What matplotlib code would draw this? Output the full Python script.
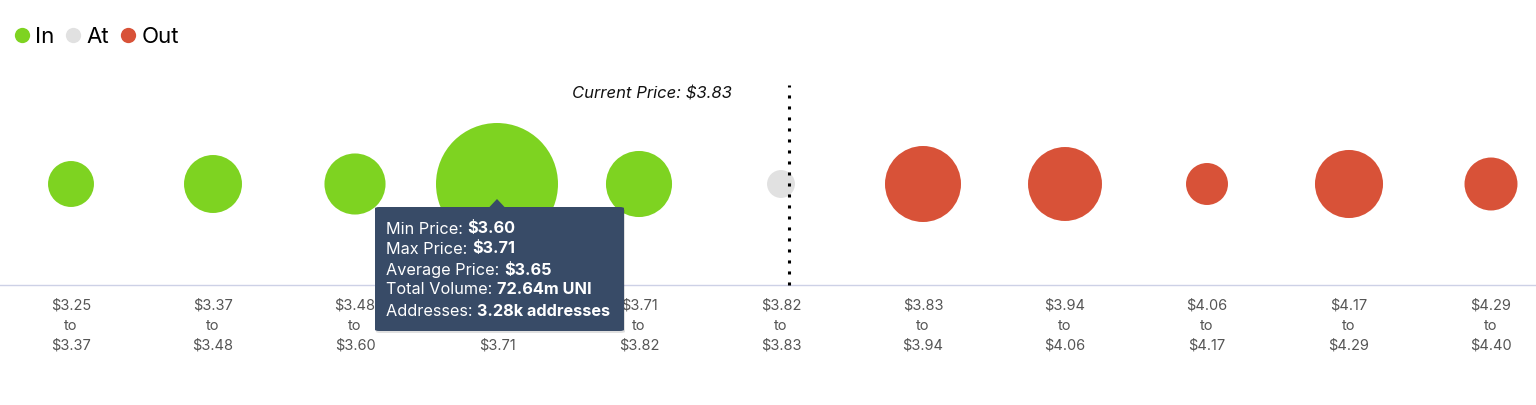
import matplotlib
matplotlib.use("Agg")
import matplotlib.pyplot as plt
from matplotlib.lines import Line2D
from matplotlib.patches import FancyBboxPatch, Polygon
import numpy as np

# ---- data ----
range_low = ["$3.25", "$3.37", "$3.48", "$3.60", "$3.71", "$3.82", "$3.83", "$3.94", "$4.06", "$4.17", "$4.29"]
range_high = ["$3.37", "$3.48", "$3.60", "$3.71", "$3.82", "$3.83", "$3.94", "$4.06", "$4.17", "$4.29", "$4.40"]
status = ["In", "In", "In", "In", "In", "At", "Out", "Out", "Out", "Out", "Out"]
volume_m = [10.3, 16.4, 18.2, 72.64, 21.3, 3.8, 28.2, 26.7, 8.6, 22.6, 13.7]
current_price_label = "Current Price: $3.83"
tooltip_labels = ["Min Price: ", "Max Price: ", "Average Price: ", "Total Volume: ", "Addresses: "]
tooltip_values = ["$3.60", "$3.71", "$3.65", "72.64m UNI", "3.28k addresses"]
tooltip_index = 3

colors = {"In": "#7ed321", "At": "#e1e1e1", "Out": "#d85238"}

W, H = 1536, 405
DPI = 100
plt.rcParams['font.family'] = ['Inter', 'DejaVu Sans']
fig = plt.figure(figsize=(W / DPI, H / DPI), dpi=DPI)


def fx(px):
    return px / W


def fy(py):
    return 1 - py / H


ax_top, ax_bot = 85, 285
ax = fig.add_axes([0, fy(ax_bot), 1, (ax_bot - ax_top) / H])
x0, step = 71, 142
ax.set_xlim(-x0 / step, (W - x0) / step)
ax.set_ylim(0, 1)

n = len(volume_m)
xs = np.arange(n)
k = (2 * 61 * 72 / DPI) ** 2 / 72.64
ax.scatter(xs, [0.505] * n, s=np.array(volume_m) * k,
           c=[colors[s] for s in status], linewidths=0, zorder=2)

# current price dotted line
line_x = (789 - x0) / step
ax.plot([line_x, line_x], [0, 1], color="black", lw=2.2,
        linestyle=(0, (1, 2.6)), zorder=3, clip_on=False)
ax.text(line_x - (789 - 732) / step, 0.955, current_price_label, ha="right", va="center",
        fontsize=12, style="italic", color="#111111")

# axis styling
for sp in ["top", "left", "right"]:
    ax.spines[sp].set_visible(False)
ax.spines["bottom"].set_color("#cdd1e6")
ax.spines["bottom"].set_linewidth(1)
ax.set_yticks([])
ax.set_xticks(xs)
ax.set_xticklabels([f"{a}\nto\n{b}" for a, b in zip(range_low, range_high)],
                   fontsize=10.5, color="#555555", linespacing=1.55)
ax.tick_params(axis="x", length=0, pad=10)
ax.set_facecolor("none")

# legend
handles = [Line2D([], [], marker="o", linestyle="", markersize=11,
                  markerfacecolor=colors[s], markeredgewidth=0) for s in ["In", "At", "Out"]]
fig.legend(handles, ["In", "At", "Out"], loc="center left",
           bbox_to_anchor=(fx(6), fy(37)), ncol=3, frameon=False, fontsize=16,
           handlelength=0.6, handletextpad=0.3, columnspacing=0.55, borderaxespad=0)

# tooltip
bx0, by0, bx1, by1 = 375, 207, 624, 331
shadow = FancyBboxPatch((fx(bx0 + 1), fy(by1 + 2)), fx(bx1 - bx0), (by1 - by0) / H,
                        boxstyle="round,pad=0,rounding_size=0.003", transform=fig.transFigure,
                        facecolor="#000000", alpha=0.12, edgecolor="none", zorder=9)
box = FancyBboxPatch((fx(bx0), fy(by1)), fx(bx1 - bx0), (by1 - by0) / H,
                     boxstyle="round,pad=0,rounding_size=0.003", transform=fig.transFigure,
                     facecolor="#384b67", edgecolor="none", zorder=10)
px_c = x0 + step * tooltip_index
tri = Polygon([(fx(px_c - 8), fy(by0 + 0.5)), (fx(px_c), fy(by0 - 8)), (fx(px_c + 8), fy(by0 + 0.5))],
              closed=True, transform=fig.transFigure, facecolor="#384b67", edgecolor="none", zorder=10)
fig.patches.extend([shadow, box, tri])

line_y = [229, 249, 270, 290, 311]
for lab, val, yy in zip(tooltip_labels, tooltip_values, line_y):
    t = fig.text(fx(386), fy(yy), lab, ha="left", va="center", fontsize=11.7,
                 color="white", zorder=11)
    ann = matplotlib.text.Annotation(val, xy=(1, 0), xycoords=t, ha="left", va="bottom",
                                     fontsize=11.7, color="white", fontweight="bold",
                                     zorder=11, annotation_clip=False)
    fig.add_artist(ann)

fig.savefig("out.png", dpi=DPI, facecolor="white")
